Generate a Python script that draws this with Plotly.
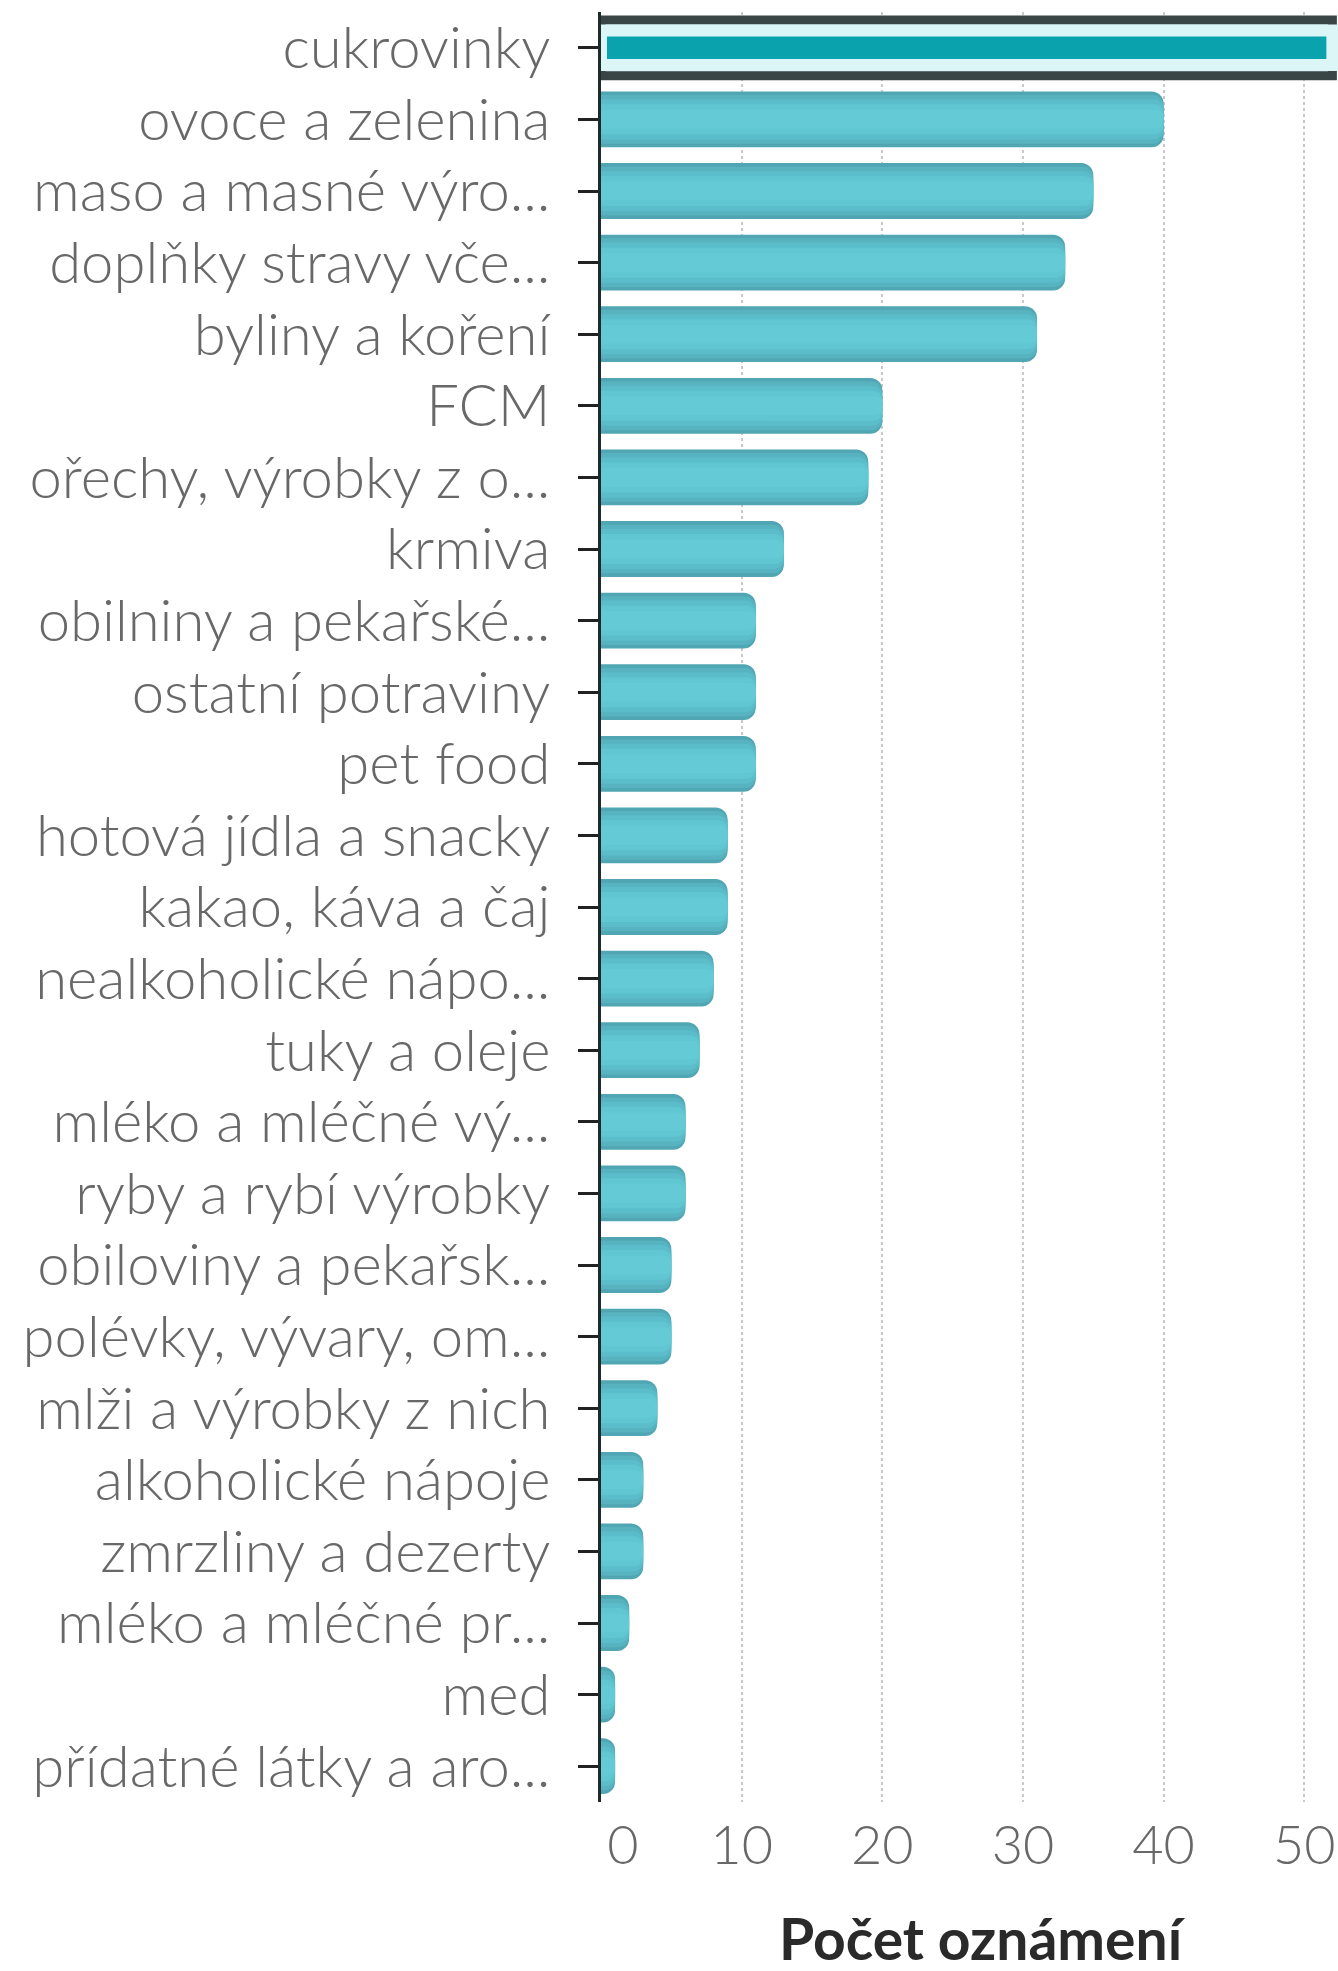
import plotly.graph_objects as go

categories = [
    "cukrovinky", "ovoce a zelenina", "maso a masné výro...", "doplňky stravy vče...",
    "byliny a koření", "FCM", "ořechy, výrobky z o...", "krmiva",
    "obilniny a pekařské...", "ostatní potraviny", "pet food", "hotová jídla a snacky",
    "kakao, káva a čaj", "nealkoholické nápo...", "tuky a oleje", "mléko a mléčné vý...",
    "ryby a rybí výrobky", "obiloviny a pekařsk...", "polévky, vývary, om...", "mlži a výrobky z nich",
    "alkoholické nápoje", "zmrzliny a dezerty", "mléko a mléčné pr...", "med",
    "přídatné látky a aro...",
]
counts = [52, 40, 35, 33, 31, 20, 19, 13, 11, 11, 11, 9, 9, 8, 7, 6, 6, 5, 5, 4, 3, 3, 2, 1, 1]
highlighted = "cukrovinky"
x_tickvals = [0, 10, 20, 30, 40, 50]
x_ticktext = ["\u00a0\u00a0\u00a00", "10", "20", "30", "40", "50"]
axis_title = "Počet oznámení"

normal_x = [None if c == highlighted else v for c, v in zip(categories, counts)]
hl_x = [v if c == highlighted else None for c, v in zip(categories, counts)]

fig = go.Figure()

# gradient-like layered bars (outer darker, inner lighter)
layers = [(0.78, "#50a6b2", 12), (0.68, "#56b3bf", 11), (0.56, "#5bbdc9", 10), (0.42, "#60c6d1", 9), (0.26, "#64cbd6", 7)]
for w, col, r in layers:
    fig.add_trace(go.Bar(
        y=categories, x=normal_x, orientation="h", width=w,
        marker=dict(color=col, line=dict(width=0), cornerradius=r),
        hoverinfo="skip", showlegend=False,
    ))

# highlighted bar: outlined box + inner teal bar
fig.add_trace(go.Bar(
    y=categories, x=hl_x, orientation="h", width=0.78,
    marker=dict(color="#dcf6f8", line=dict(color="#3a4646", width=9)),
    hoverinfo="skip", showlegend=False,
))
fig.add_trace(go.Bar(
    y=categories, x=hl_x, orientation="h", width=0.48,
    marker=dict(color="#0aa3ad", line=dict(color="#dcf6f8", width=12)),
    hoverinfo="skip", showlegend=False,
))

fig.update_layout(
    width=1338, height=1971,
    margin=dict(l=601, r=0, t=12, b=169),
    paper_bgcolor="white", plot_bgcolor="white",
    barmode="overlay",
    font=dict(family="Lato", size=58, color="#686868", weight=300),
    annotations=[dict(
        text=axis_title, xref="paper", yref="paper", x=0.518, y=-0.076,
        xanchor="center", yanchor="middle", showarrow=False,
        font=dict(family="Lato", size=57, color="#2a2a2a", weight="bold"),
    )],
)
fig.update_xaxes(
    automargin=False,
    range=[0, 52.4],
    tickvals=x_tickvals, ticktext=x_ticktext,
    showgrid=True, gridcolor="#c9c9c9", gridwidth=1.5, griddash="dot",
    zeroline=False, showline=False, ticks="",
    tickfont=dict(family="Lato", size=54, color="#686868", weight=300),
    ticklabelstandoff=7,
)
fig.update_yaxes(
    automargin=False,
    categoryorder="array", categoryarray=categories,
    range=[len(categories) - 0.5, -0.5],
    showgrid=False, zeroline=False,
    showline=True, linecolor="#1f2a2a", linewidth=3,
    ticks="outside", ticklen=20, tickwidth=2.5, tickcolor="#222222",
    tickfont=dict(family="Lato", size=58, color="#686868", weight=300),
    ticklabelstandoff=16,
)

fig.write_html(
    "out.html",
    config={"displayModeBar": False},
    post_script="document.body.style.margin='0px';document.body.style.overflow='hidden';",
)
